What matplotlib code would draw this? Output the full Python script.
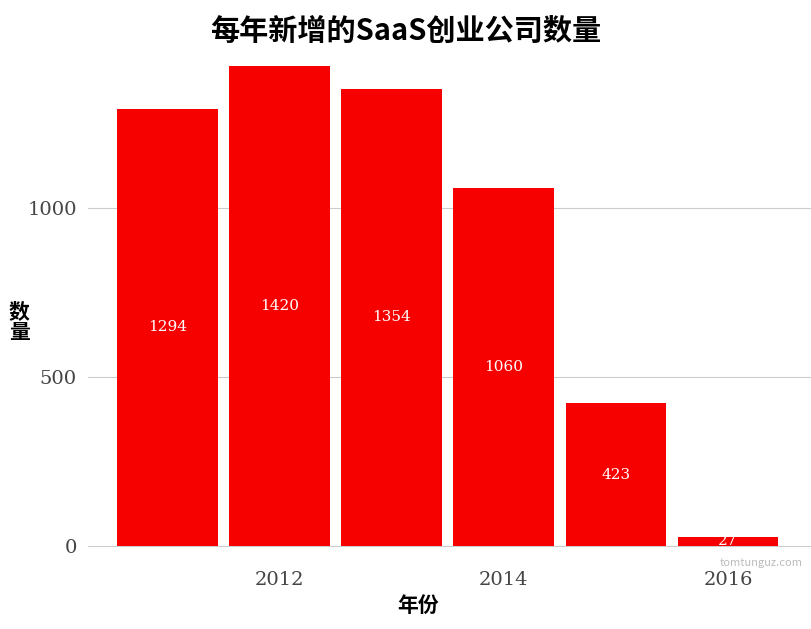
import matplotlib
matplotlib.use("Agg")
import matplotlib.pyplot as plt

years = [2011, 2012, 2013, 2014, 2015, 2016]
counts = [1294, 1420, 1354, 1060, 423, 27]
xticks = [2012, 2014, 2016]
yticks = [0, 500, 1000]

plt.rcParams['font.family'] = ['Noto Sans CJK SC', 'DejaVu Sans']
fig = plt.figure(figsize=(8.11, 6.29), dpi=100)
ax = fig.add_axes([0.1085, 0.1105, 0.8915, 0.800])
ax.bar(years, counts, width=0.9, color='#f60000', zorder=2)
for x, v in zip(years, counts):
    ax.text(x, v / 2, str(v), ha='center', va='center', color='white',
            fontsize=11, family='DejaVu Serif', zorder=3)
ax.set_xlim(2010.29, 2016.74)
ax.set_ylim(-40, 1450)
ax.set_xticks(xticks)
ax.set_yticks(yticks)
ax.tick_params(length=0, labelsize=14, colors='#444444', pad=8)
for lab in ax.get_xticklabels() + ax.get_yticklabels():
    lab.set_family('DejaVu Serif')
ax.grid(axis='y', color='#cccccc', linewidth=0.8, zorder=0)
for s in ax.spines.values():
    s.set_visible(False)
fig.text(418 / 811, 1 - 605 / 629, '年份', fontsize=15, fontweight='bold', ha='center', va='center')
fig.text(19 / 811, 1 - 322 / 629, '数\n量', fontsize=15, fontweight='bold', ha='center', va='center', linespacing=1.0)
fig.suptitle('每年新增的SaaS创业公司数量', fontsize=21, fontweight='bold', y=0.975)
fig.text(0.99, 0.105, 'tomtunguz.com', ha='right', va='center', fontsize=8, color='#bbbbbb')
fig.savefig('out.png', dpi=100)
